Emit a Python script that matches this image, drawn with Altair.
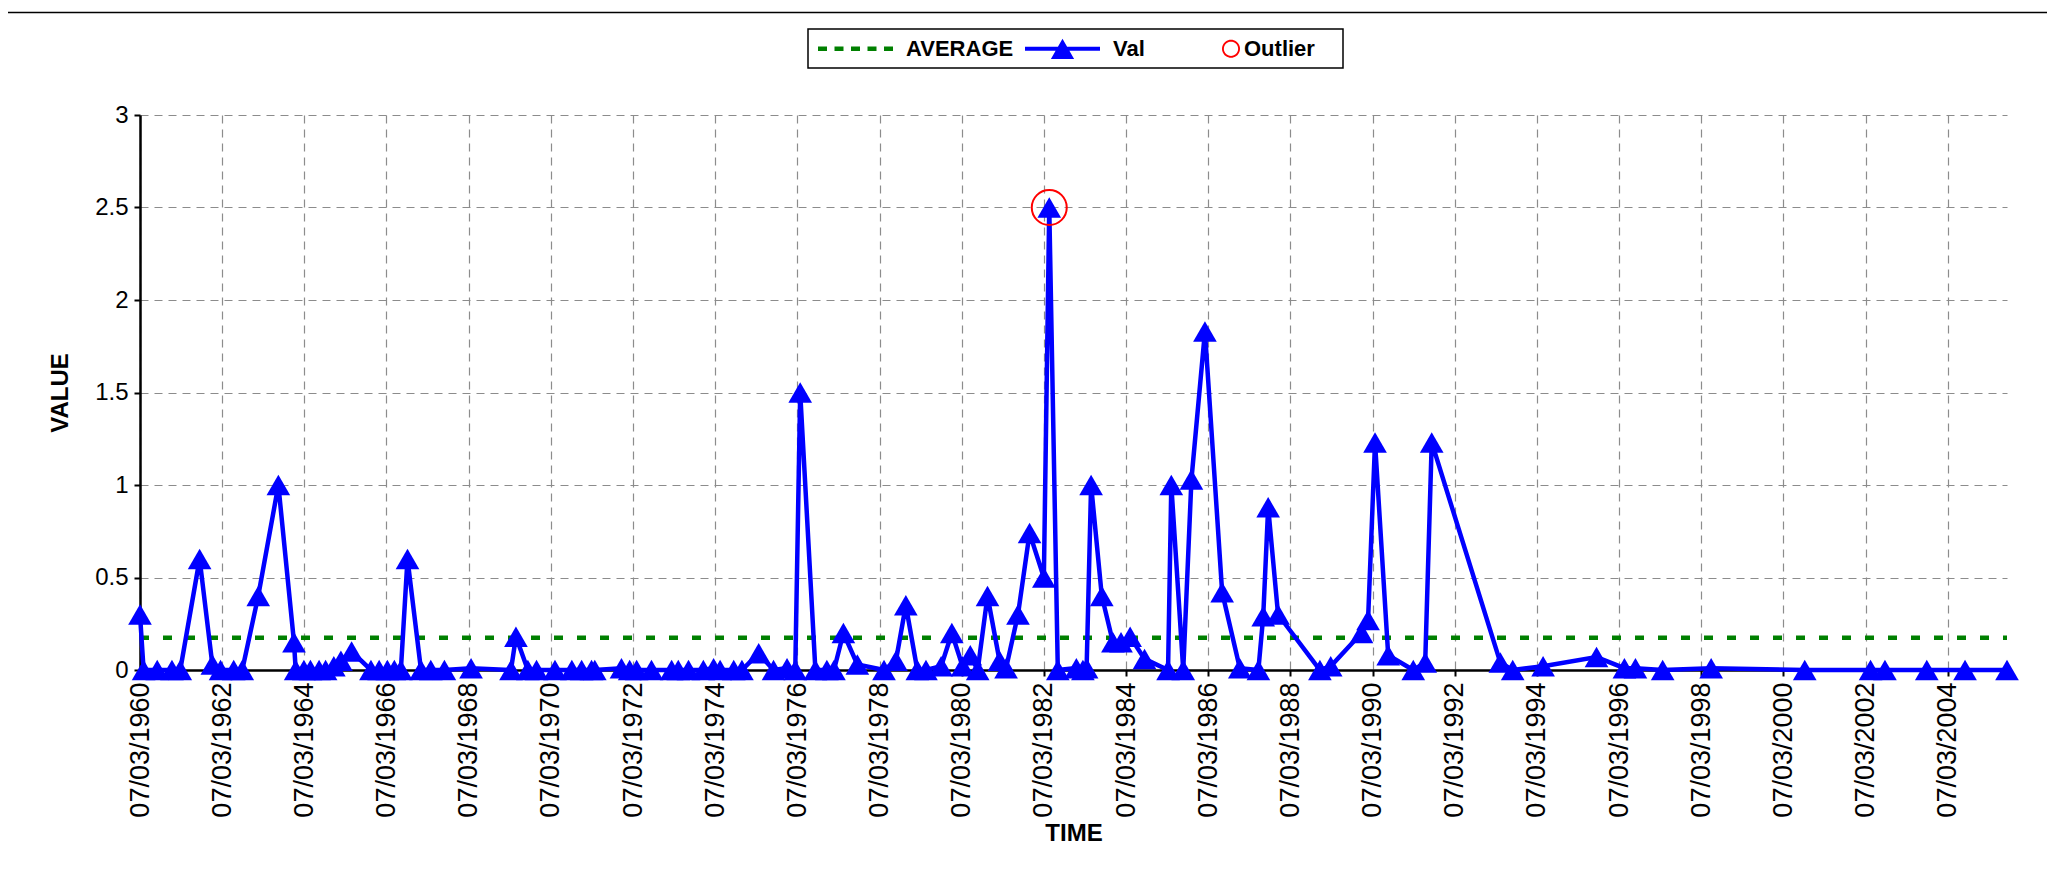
import altair as alt
import pandas as pd
import numpy as np

# ---------------- data ----------------
years = [
    1960.183, 1960.27, 1960.60, 1960.96, 1961.16, 1961.63, 1961.94, 1962.14, 1962.46, 1962.67,
    1963.06, 1963.55, 1963.93, 1963.97, 1964.17, 1964.33, 1964.54, 1964.70, 1964.90, 1965.07,
    1965.33, 1965.80, 1966.00, 1966.20, 1966.37, 1966.53, 1966.69, 1967.02, 1967.26, 1967.59,
    1968.24, 1969.21, 1969.33, 1969.62, 1969.83, 1970.28, 1970.69, 1970.93, 1971.17, 1971.25,
    1971.90, 1972.10, 1972.27, 1972.63, 1973.12, 1973.28, 1973.53, 1973.89, 1974.14, 1974.30,
    1974.63, 1974.83, 1975.24, 1975.60, 1975.93, 1976.13, 1976.25, 1976.62, 1976.90, 1977.07,
    1977.30, 1977.64, 1978.29, 1978.58, 1978.82, 1979.10, 1979.31, 1979.68, 1979.94, 1980.20,
    1980.39, 1980.57, 1980.81, 1981.10, 1981.26, 1981.55, 1981.83, 1982.18, 1982.31, 1982.52,
    1982.97, 1983.13, 1983.22, 1983.33, 1983.59, 1983.86, 1984.06, 1984.28, 1984.63, 1985.20,
    1985.28, 1985.57, 1985.77, 1986.10, 1986.52, 1986.95, 1987.40, 1987.52, 1987.64, 1987.88,
    1988.90, 1989.16, 1989.91, 1990.07, 1990.24, 1990.56, 1991.17, 1991.46, 1991.62, 1993.29,
    1993.59, 1994.33, 1995.63, 1996.31, 1996.58, 1997.24, 1998.42, 2000.70, 2002.30, 2002.65,
    2003.67, 2004.60, 2005.62,
]
values = [
    0.30, 0.00, 0.00, 0.00, 0.00, 0.60, 0.03, 0.00, 0.00, 0.00,
    0.40, 1.00, 0.15, 0.00, 0.00, 0.00, 0.00, 0.00, 0.02, 0.05,
    0.10, 0.00, 0.00, 0.00, 0.00, 0.00, 0.60, 0.00, 0.00, 0.00,
    0.01, 0.00, 0.18, 0.00, 0.00, 0.00, 0.00, 0.00, 0.00, 0.00,
    0.01, 0.00, 0.00, 0.00, 0.00, 0.00, 0.00, 0.00, 0.01, 0.00,
    0.00, 0.00, 0.09, 0.00, 0.01, 0.00, 1.50, 0.00, 0.00, 0.00,
    0.20, 0.03, 0.00, 0.05, 0.35, 0.00, 0.00, 0.02, 0.20, 0.02,
    0.08, 0.00, 0.40, 0.05, 0.01, 0.30, 0.74, 0.50, 2.50, 0.00,
    0.01, 0.00, 0.01, 1.00, 0.40, 0.15, 0.15, 0.18, 0.06, 0.00,
    1.00, 0.00, 1.03, 1.83, 0.42, 0.01, 0.00, 0.29, 0.88, 0.30,
    0.00, 0.02, 0.20, 0.27, 1.23, 0.08, 0.00, 0.04, 1.23, 0.04,
    0.00, 0.02, 0.07, 0.01, 0.01, 0.00, 0.01, 0.00, 0.00, 0.00,
    0.00, 0.00, 0.00,
]
outlier_years = [1982.31]
outlier_values = [2.5]

series_names = ["AVERAGE", "Val", "Outlier"]
series_colors = ["#008000", "#0000FF", "#FF0000"]
x_tick_years = list(range(1960, 2005, 2))
y_ticks = [0, 0.5, 1, 1.5, 2, 2.5, 3]

FONT = "Liberation Sans"
W, H = 1867, 555


def to_date(y):
    yr = int(np.floor(y))
    ts = pd.Timestamp(f"{yr}-01-01") + pd.Timedelta(days=(y - yr) * 365.25)
    return ts.strftime("%Y-%m-%d")


def ms(s):
    return int(pd.Timestamp(s).value // 10**6)


dates = [to_date(y) for y in years]
df = pd.DataFrame({"date": dates, "value": values})
avg = float(np.mean(values))
avg_df = pd.DataFrame({"date": [dates[0], dates[-1]], "value": [avg, avg]})
out_df = pd.DataFrame({"date": [to_date(y) for y in outlier_years], "value": outlier_values})
legend_df = pd.DataFrame({"series": series_names})

x_domain = [ms(dates[0]), ms(dates[-1])]
tick_vals = [ms(f"{y}-03-07") for y in x_tick_years]

# ---------------- legend symbol shapes (unit paths) ----------------
def rect(x0, x1, h):
    return f"M{x0:.3f},{-h:.3f}L{x1:.3f},{-h:.3f}L{x1:.3f},{h:.3f}L{x0:.3f},{h:.3f}Z"

dash_path = "".join(rect(s, s + 0.24, 0.06) for s in [-1.0, -0.56, -0.12, 0.32, 0.76])
val_path = rect(-1.0, 1.0, 0.055) + "M0,-0.27L0.31,0.27L-0.31,0.27Z"

def ring(cx, R, r, n=40):
    th = np.linspace(0, 2 * np.pi, n, endpoint=False)
    outer = "M" + "L".join(f"{cx + R*np.cos(t):.3f},{R*np.sin(t):.3f}" for t in th) + "Z"
    inner = "M" + "L".join(f"{cx + r*np.cos(t):.3f},{r*np.sin(t):.3f}" for t in th[::-1]) + "Z"
    return outer + inner

out_path = ring(1.0, 0.24, 0.19)

# ---------------- encodings ----------------
x_enc = alt.X(
    "date:T",
    scale=alt.Scale(type="utc", domain=x_domain, nice=False),
    axis=alt.Axis(
        values=tick_vals, labelExpr="utcFormat(datum.value, '%d/%m/%Y')", labelAngle=270,
        title="TIME", labelFontSize=27, labelPadding=6, titlePadding=4,
        labelFlush=False, labelOverlap=False, labelBound=False,
    ),
)
y_enc = alt.Y(
    "value:Q",
    scale=alt.Scale(domain=[0, 3], nice=False),
    axis=alt.Axis(values=y_ticks, format="~g", title="VALUE", labelFontSize=24,
                  labelPadding=6, titlePadding=22),
)

avg_layer = alt.Chart(avg_df).mark_line(
    color="#008000", strokeWidth=4.5, strokeDash=[9, 14], strokeCap="butt"
).encode(x=x_enc, y=y_enc)

line_layer = alt.Chart(df).mark_line(color="#0000FF", strokeWidth=4.5).encode(x=x_enc, y=y_enc)

pts_layer = alt.Chart(df).mark_point(
    shape="triangle-up", filled=True, size=560, color="#0000FF", opacity=1
).encode(x=x_enc, y=y_enc)

out_layer = alt.Chart(out_df).mark_point(
    shape="circle", filled=False, size=1225, color="#FF0000", strokeWidth=2, opacity=1
).encode(x=x_enc, y=y_enc)

leg = alt.Legend(
    orient="none", legendX=678, legendY=-104, direction="horizontal", columns=3,
    title=None, labelFont=FONT, labelFontSize=22, labelFontWeight="bold",
    labelColor="black", symbolSize=5625, symbolStrokeWidth=0, labelOffset=13,
    columnPadding=11, padding=0, labelLimit=0,
    labelExpr="datum.label == 'Outlier' ? '\u00a0Outlier' : datum.label",
)
legend_layer = alt.Chart(legend_df).transform_filter("false").mark_point(
    filled=True, opacity=1, size=5625, strokeWidth=0
).encode(
    color=alt.Color("series:N", scale=alt.Scale(domain=series_names, range=series_colors), legend=leg),
    shape=alt.Shape("series:N", scale=alt.Scale(domain=series_names, range=[dash_path, val_path, out_path]), legend=leg),
)

dummy = alt.Data(values=[{"a": 1}])
top_line = alt.Chart(dummy).mark_rule(color="black", strokeWidth=1.5).encode(
    x=alt.value(-132), x2=alt.value(W + 40), y=alt.value(-102.5)
)
legend_box = alt.Chart(dummy).mark_rect(fillOpacity=0, stroke="black", strokeWidth=1.5).encode(
    x=alt.value(668), x2=alt.value(1203), y=alt.value(-86), y2=alt.value(-47)
)

chart = alt.layer(
    avg_layer, line_layer, pts_layer, out_layer, legend_layer, top_line, legend_box
).properties(
    width=W, height=H,
    autosize=alt.AutoSizeParams(type="none"),
    padding={"left": 132, "top": 107, "right": 40, "bottom": 200},
    background="white",
).configure_view(stroke="transparent").configure_axis(
    labelFont=FONT, titleFont=FONT, labelColor="black", titleColor="black",
    domainColor="black", domainWidth=2.5, tickColor="black", tickWidth=2, tickSize=6,
    gridColor="#8c8c8c", gridDash=[8, 6], gridWidth=1.2,
    titleFontSize=24, titleFontWeight="bold",
).configure_legend(labelFont=FONT)

chart.save("out.html", embed_options={"renderer": "svg", "actions": False})
